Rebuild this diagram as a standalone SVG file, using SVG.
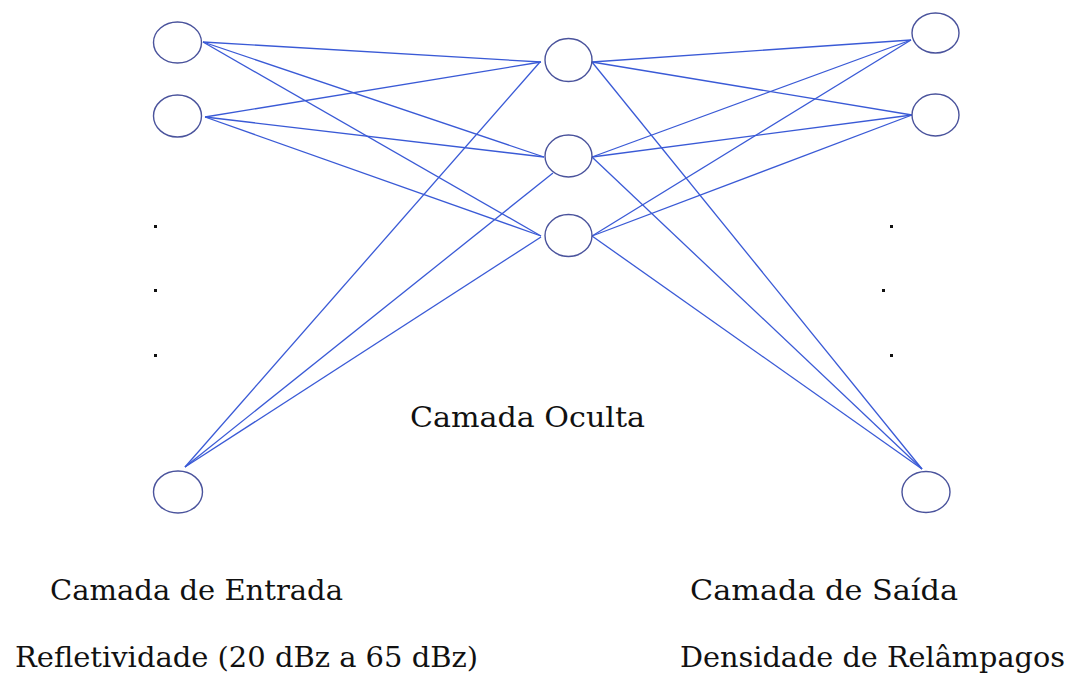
<svg xmlns="http://www.w3.org/2000/svg" width="1077" height="685" viewBox="0 0 1077 685">
<style>
.node{fill:none;stroke:#4a539c;stroke-width:1.4}
.edge{stroke:#3a5ad6;stroke-width:1.3;fill:none}
.lbl{font-family:"DejaVu Serif","Liberation Serif",serif;font-size:28px;fill:#111111}
.dot{fill:#111}
</style>
<rect width="1077" height="685" fill="#ffffff"/>
<g id="connectors">
<line class="edge" x1="203" y1="42" x2="541" y2="62"/>
<line class="edge" x1="203" y1="42" x2="544" y2="157"/>
<line class="edge" x1="203" y1="42" x2="541" y2="236"/>
<line class="edge" x1="205" y1="117" x2="541" y2="62"/>
<line class="edge" x1="205" y1="117" x2="544" y2="157"/>
<line class="edge" x1="205" y1="117" x2="541" y2="236"/>
<line class="edge" x1="185" y1="467" x2="540" y2="62"/>
<line class="edge" x1="185" y1="467" x2="553" y2="173"/>
<line class="edge" x1="185" y1="467" x2="541" y2="237"/>
<line class="edge" x1="592" y1="62" x2="911" y2="40"/>
<line class="edge" x1="592" y1="62" x2="912" y2="115"/>
<line class="edge" x1="592" y1="62" x2="922" y2="469"/>
<line class="edge" x1="592" y1="157" x2="911" y2="40"/>
<line class="edge" x1="592" y1="157" x2="912" y2="115"/>
<line class="edge" x1="592" y1="157" x2="922" y2="469"/>
<line class="edge" x1="592" y1="236" x2="911" y2="40"/>
<line class="edge" x1="592" y1="236" x2="912" y2="115"/>
<line class="edge" x1="592" y1="236" x2="922" y2="469"/>
</g>
<g id="in1"><ellipse class="node" cx="177.5" cy="42.5" rx="24" ry="20.5"/></g>
<g id="in2"><ellipse class="node" cx="177.5" cy="116" rx="24" ry="21"/></g>
<g id="in-dots"><rect class="dot" x="154" y="225" width="3" height="3"/><rect class="dot" x="154" y="289" width="3" height="3"/><rect class="dot" x="154" y="354" width="3" height="3"/></g>
<g id="inN"><ellipse class="node" cx="178" cy="492" rx="24.5" ry="21"/></g>
<g id="h1"><ellipse class="node" cx="568.5" cy="60" rx="23.5" ry="21.5"/></g>
<g id="h2"><ellipse class="node" cx="568.5" cy="156" rx="23.5" ry="21"/></g>
<g id="h3"><ellipse class="node" cx="568.5" cy="235.5" rx="23.5" ry="21"/></g>
<g id="out1"><ellipse class="node" cx="935.5" cy="33" rx="23.5" ry="20"/></g>
<g id="out2"><ellipse class="node" cx="935.5" cy="115" rx="23.5" ry="21"/></g>
<g id="out-dots"><rect class="dot" x="890" y="225" width="3" height="3"/><rect class="dot" x="882" y="289" width="3" height="3"/><rect class="dot" x="890" y="354" width="3" height="3"/></g>
<g id="outN"><ellipse class="node" cx="926" cy="492" rx="24" ry="20.5"/></g>
<g id="labels">
<text class="lbl" x="410" y="427" textLength="235" lengthAdjust="spacingAndGlyphs">Camada Oculta</text>
<text class="lbl" x="50" y="600" textLength="293" lengthAdjust="spacingAndGlyphs">Camada de Entrada</text>
<text class="lbl" x="690" y="600" textLength="268" lengthAdjust="spacingAndGlyphs">Camada de Saída</text>
<text class="lbl" x="15" y="667" textLength="463" lengthAdjust="spacingAndGlyphs">Refletividade (20 dBz a 65 dBz)</text>
<text class="lbl" x="680" y="667" textLength="385" lengthAdjust="spacingAndGlyphs">Densidade de Relâmpagos</text>
</g>
</svg>
